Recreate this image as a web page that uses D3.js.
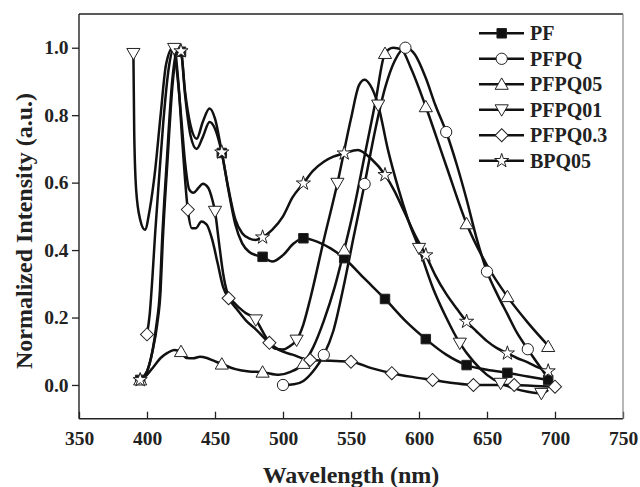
<!DOCTYPE html>
<html><head><meta charset="utf-8">
<script src="https://cdn.jsdelivr.net/npm/d3@7"></script>
<style>body{margin:0;background:#fff}svg{display:block}</style>
</head><body>
<svg id="chart" width="640" height="487"></svg>
<script>
// ---- data ----
const seriesNames = ["PF","PFPQ","PFPQ05","PFPQ01","PFPQ0.3","BPQ05"];
const xTicks = [350,400,450,500,550,600,650,700,750];
const yTicks = [0.0,0.2,0.4,0.6,0.8,1.0];

const pfCurve = [[395,0.015],[400,0.04],[404,0.1],[407,0.18],[409.5,0.28],[411,0.42],[414.5,0.66],[418.5,0.9],[422.5,1.0],[425,0.988],[428,0.86],[432,0.74],[436.5,0.70],[441,0.735],[446,0.78],[450,0.76],[455,0.688],[460,0.575],[465,0.475],[470,0.42],[475,0.395],[480,0.385],[485,0.38],[492,0.366],[500,0.385],[508,0.42],[515,0.435],[525,0.425],[535,0.405],[545,0.376],[560,0.315],[575,0.255],[590,0.19],[605,0.136],[620,0.09],[635,0.059],[650,0.045],[665,0.036],[680,0.025],[695,0.015]];
const pfMarks = [[395,0.015],[425,0.988],[455,0.688],[485,0.38],[515,0.435],[545,0.376],[575,0.255],[605,0.136],[635,0.059],[665,0.036],[695,0.015]];

const pfpqCurve = [[500,0.0],[508,0.002],[515,0.012],[522,0.04],[530,0.089],[537,0.16],[545,0.3],[552,0.44],[560,0.596],[568,0.76],[575,0.88],[582,0.96],[590,1.0],[597,0.98],[605,0.91],[612,0.83],[620,0.75],[628,0.65],[635,0.55],[642,0.44],[650,0.336],[658,0.265],[665,0.21],[672,0.155],[680,0.106],[687,0.065],[694,0.025]];
const pfpqMarks = [[500,0.0],[530,0.089],[560,0.596],[590,1.0],[620,0.75],[650,0.336],[680,0.106]];

const pfpq05Curve = [[395,0.015],[400,0.03],[405,0.055],[410,0.08],[415,0.095],[420,0.104],[425,0.099],[429,0.08],[434,0.079],[439,0.084],[444,0.08],[449,0.072],[455,0.062],[465,0.047],[475,0.04],[485,0.038],[497,0.03],[505,0.038],[515,0.064],[522,0.11],[530,0.19],[538,0.29],[545,0.40],[552,0.52],[560,0.68],[568,0.84],[575,0.983],[581,1.0],[587,0.995],[594,0.94],[605,0.825],[620,0.65],[635,0.478],[650,0.355],[665,0.262],[680,0.185],[697,0.108]];
const pfpq05Marks = [[395,0.015],[425,0.099],[455,0.062],[485,0.038],[515,0.064],[545,0.40],[575,0.983],[605,0.825],[635,0.478],[665,0.262],[695,0.114]];

const pfpq01Curve = [[390,0.983],[390.6,0.75],[392,0.58],[395,0.49],[398.5,0.46],[402,0.52],[406,0.637],[410,0.8],[414,0.95],[419,1.0],[422,0.93],[425,0.8],[428,0.66],[431,0.58],[434,0.57],[438,0.585],[441,0.597],[445,0.585],[448,0.55],[450,0.515],[453,0.42],[456,0.33],[459,0.275],[465,0.24],[472,0.215],[480,0.193],[487,0.145],[494,0.108],[500,0.105],[505,0.115],[510,0.133],[515,0.18],[520,0.255],[530,0.43],[540,0.598],[550,0.79],[556,0.89],[560,0.905],[564,0.89],[570,0.83],[577,0.7],[585,0.58],[592,0.49],[600,0.405],[610,0.29],[620,0.2],[630,0.124],[640,0.07],[650,0.03],[660,0.005],[670,-0.01],[680,-0.02],[690,-0.025],[695,-0.015]];
const pfpq01Marks = [[390,0.983],[420,0.998],[450,0.515],[480,0.193],[510,0.133],[540,0.598],[570,0.83],[600,0.405],[630,0.124],[660,0.005],[690,-0.025]];

const pfpq03Curve = [[400,0.15],[402,0.21],[404,0.32],[406,0.45],[409,0.62],[412,0.78],[416,0.94],[420,1.0],[423,0.9],[426,0.72],[430,0.52],[433,0.465],[436,0.465],[440,0.485],[444,0.475],[448,0.43],[452,0.36],[456,0.29],[460,0.257],[466,0.225],[473,0.19],[480,0.165],[490,0.125],[497,0.104],[507,0.09],[520,0.074],[535,0.072],[550,0.069],[565,0.05],[580,0.035],[595,0.024],[610,0.015],[625,0.006],[640,0.0],[655,0.0],[670,0.0],[685,-0.003],[700,-0.005]];
const pfpq03Marks = [[400,0.15],[430,0.52],[460,0.257],[490,0.125],[520,0.074],[550,0.069],[580,0.035],[610,0.015],[640,0.0],[670,0.0],[700,-0.005]];

const bpq05Curve = [[395,0.015],[400,0.04],[404,0.1],[407.5,0.18],[410,0.28],[411.5,0.42],[415,0.66],[419,0.9],[423,1.0],[425,0.99],[428,0.87],[432,0.77],[436.5,0.73],[441,0.78],[446,0.82],[450,0.79],[455,0.69],[460,0.58],[465,0.49],[470,0.45],[475,0.435],[480,0.43],[485,0.438],[492,0.46],[500,0.5],[507,0.556],[515,0.598],[522,0.635],[530,0.662],[537,0.677],[545,0.687],[555,0.697],[565,0.67],[575,0.623],[582,0.575],[589,0.515],[597,0.445],[605,0.385],[612,0.325],[620,0.27],[628,0.225],[635,0.188],[642,0.16],[650,0.13],[657,0.11],[665,0.094],[672,0.08],[680,0.067],[687,0.053],[695,0.041]];
const bpq05Marks = [[395,0.015],[425,0.99],[455,0.69],[485,0.438],[515,0.598],[545,0.687],[575,0.623],[605,0.385],[635,0.188],[665,0.094],[695,0.041]];

// ---- layout ----
const svg = d3.select("#chart");
const L = 79, R = 623, T = 14, B = 418.7;
const x = d3.scaleLinear().domain([350,750]).range([L,R]);
const y = d3.scaleLinear().domain([-0.1,1.1]).range([B,T]);
const FONT = "'Liberation Serif','Times New Roman',serif";

const series = [
  {name:"PF", curve:pfCurve, marks:pfMarks, sym:"square"},
  {name:"PFPQ", curve:pfpqCurve, marks:pfpqMarks, sym:"circle"},
  {name:"PFPQ05", curve:pfpq05Curve, marks:pfpq05Marks, sym:"up"},
  {name:"PFPQ01", curve:pfpq01Curve, marks:pfpq01Marks, sym:"down"},
  {name:"PFPQ0.3", curve:pfpq03Curve, marks:pfpq03Marks, sym:"diamond"},
  {name:"BPQ05", curve:bpq05Curve, marks:bpq05Marks, sym:"star"}
];

function symPath(s){
  if(s==="square") return d3.symbol().type(d3.symbolSquare).size(90)();
  if(s==="circle") return d3.symbol().type(d3.symbolCircle).size(100)();
  if(s==="up"||s==="down") return d3.symbol().type(d3.symbolTriangle).size(75)();
  if(s==="diamond") return d3.symbol().type(d3.symbolSquare).size(85)();
  if(s==="star") return d3.symbol().type(d3.symbolStar).size(62)();
}
function symRot(s){ return s==="down"?180:(s==="diamond"?45:0); }
function symOffset(s){ return s==="up"?1.2:(s==="down"?-1.2:0); }

function drawMarker(g, s, px, py){
  g.append("path").attr("d", symPath(s))
   .attr("transform", `translate(${px},${py+symOffset(s)}) rotate(${symRot(s)})`)
   .attr("fill", s==="square"?"#111":"#fff")
   .attr("stroke", "#222").attr("stroke-width", 1);
}

// axes
const yAxis = d3.axisLeft(y).tickValues(yTicks).tickFormat(d3.format(".1f")).tickSize(7).tickPadding(3.5);
const gy = svg.append("g").attr("transform",`translate(${L},0)`).call(yAxis);
const xAxis = d3.axisBottom(x).tickValues(xTicks).tickFormat(d3.format("d")).tickSize(-7).tickPadding(12.5);
const gx = svg.append("g").attr("transform",`translate(0,${B})`).call(xAxis);
[gx,gy].forEach(g=>{
  g.select(".domain").remove();
  g.selectAll(".tick line").attr("stroke","#222").attr("stroke-width",1.3);
  g.selectAll(".tick text").attr("font-family",FONT).attr("font-weight","bold").attr("font-size","19.5px").attr("fill","#222");
});

// frame
svg.append("line").attr("x1",L).attr("x2",R).attr("y1",T).attr("y2",T).attr("stroke","#222").attr("stroke-width",1.4);
svg.append("line").attr("x1",L).attr("x2",R).attr("y1",B).attr("y2",B).attr("stroke","#222").attr("stroke-width",1.4);
svg.append("line").attr("x1",L).attr("x2",L).attr("y1",T).attr("y2",B).attr("stroke","#222").attr("stroke-width",1.4);
svg.append("line").attr("x1",R).attr("x2",R).attr("y1",T).attr("y2",B).attr("stroke","#888").attr("stroke-width",1.2);

// lines
const line = d3.line().x(d=>x(d[0])).y(d=>y(d[1])).curve(d3.curveMonotoneX);
const gl = svg.append("g");
series.forEach(s=>{
  gl.append("path").datum(s.curve).attr("d",line)
    .attr("fill","none").attr("stroke","#111").attr("stroke-width",2.5).attr("stroke-linejoin","round");
});
// markers
const gm = svg.append("g");
series.forEach(s=>{
  s.marks.forEach(d=>drawMarker(gm, s.sym, x(d[0]), y(d[1])));
});

// legend
const lg = svg.append("g");
series.forEach((s,i)=>{
  const yy = 33.3 + i*25.5;
  lg.append("line").attr("x1",479).attr("x2",524).attr("y1",yy).attr("y2",yy).attr("stroke","#111").attr("stroke-width",2.4);
  drawMarker(lg, s.sym, 501.7, yy);
  lg.append("text").attr("x",530).attr("y",yy).attr("dy","0.35em")
    .attr("font-family",FONT).attr("font-weight","bold").attr("font-size","20px").attr("fill","#222").text(s.name);
});

// axis titles
svg.append("text").attr("x",(L+R)/2).attr("y",483).attr("text-anchor","middle")
  .attr("font-family",FONT).attr("font-weight","bold").attr("font-size","24px").attr("fill","#222").text("Wavelength (nm)");
svg.append("text").attr("transform","translate(31.5,231) rotate(-90)").attr("text-anchor","middle")
  .attr("font-family",FONT).attr("font-weight","bold").attr("font-size","24px").attr("fill","#222").text("Normalized Intensity (a.u.)");
</script>
</body></html>
